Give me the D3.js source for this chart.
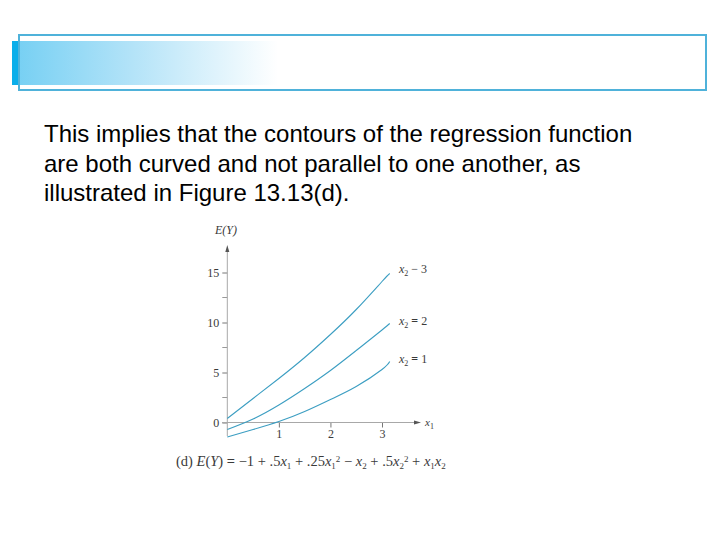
<!DOCTYPE html>
<html>
<head>
<meta charset="utf-8">
<script src="https://cdn.jsdelivr.net/npm/d3@7"></script>
<style>
  body { margin: 0; background: #fff; }
  svg { display: block; }
</style>
</head>
<body>
<div id="slide"></div>
<script>
'use strict';

// data
var x1Values = [0, 0.5, 1, 1.5, 2, 2.5, 3, 3.15];
var curveX2Eq3 = [0.4, 2.4, 4.4, 6.5, 8.8, 11.3, 14.1, 14.9];
var curveX2Eq2 = [-0.7, 0.35, 1.75, 3.4, 5.2, 7.2, 9.25, 9.9];
var curveX2Eq1 = [-1.45, -0.7, 0.1, 1.1, 2.3, 3.6, 5.3, 6.1];
var curveNames = ['x2 = 3', 'x2 = 2', 'x2 = 1'];
var curveSigns = ['\u2212', '=', '='];
var curveValues = [curveX2Eq3, curveX2Eq2, curveX2Eq1];
var yMajorTicks = [0, 5, 10, 15];
var yMinorTicks = [2.5, 7.5, 12.5];
var xTicks = [1, 2, 3];
var bodyLines = [
  'This implies that the contours of the regression function',
  'are both curved and not parallel to one another, as',
  'illustrated in Figure 13.13(d).'
];

var width = 720, height = 540;

var svg = d3.select('#slide')
            .append('svg')
            .attr('width', width)
            .attr('height', height);

var defs = svg.append('defs');

var grad = defs.append('linearGradient')
               .attr('id', 'headFade')
               .attr('x1', '0%').attr('x2', '100%')
               .attr('y1', '0%').attr('y2', '0%');
grad.append('stop').attr('offset', '0%').attr('stop-color', '#74cff3');
grad.append('stop').attr('offset', '45%').attr('stop-color', '#b3e3f8');
grad.append('stop').attr('offset', '100%').attr('stop-color', '#ffffff');

// header band
svg.append('rect')
   .attr('x', 12).attr('y', 41)
   .attr('width', 266).attr('height', 44)
   .attr('fill', 'url(#headFade)');

svg.append('rect')
   .attr('x', 12).attr('y', 41)
   .attr('width', 7).attr('height', 44)
   .attr('fill', '#0aaeea');

svg.append('rect')
   .attr('x', 19).attr('y', 35)
   .attr('width', 687).attr('height', 55)
   .attr('fill', 'none')
   .attr('stroke', '#4fb2da')
   .attr('stroke-width', 2);

// body text
svg.append('g')
   .selectAll('text')
   .data(bodyLines)
   .enter()
   .append('text')
   .attr('x', 44)
   .attr('y', function(d, i) { return 142 + i * 29.5; })
   .attr('font-family', 'Liberation Sans, Arial, sans-serif')
   .attr('font-size', 24)
   .attr('fill', '#000')
   .text(function(d) { return d; });

// chart
var xScale = d3.scaleLinear().domain([0, 3]).range([227.3, 382]);
var yScale = d3.scaleLinear().domain([0, 15]).range([422.5, 272.5]);

var serif = 'Liberation Serif, Times New Roman, serif';
var axisColor = '#a8a8a8';
var inkColor = '#3a3a3a';
var lineColor = '#3c9ec2';

var chart = svg.append('g');

// y axis
var yAxis = d3.axisLeft(yScale)
              .tickValues(yMajorTicks)
              .tickSize(5)
              .tickPadding(3)
              .tickFormat(d3.format('d'));

var yAxisG = chart.append('g')
                  .attr('transform', 'translate(' + xScale(0) + ',0)')
                  .call(yAxis);
yAxisG.select('.domain').remove();
yAxisG.selectAll('line').attr('stroke', '#777');
yAxisG.selectAll('text')
      .attr('font-family', serif)
      .attr('font-size', 12)
      .attr('fill', inkColor);

chart.append('g')
     .selectAll('line')
     .data(yMinorTicks)
     .enter()
     .append('line')
     .attr('x1', xScale(0) - 5).attr('x2', xScale(0))
     .attr('y1', function(d) { return yScale(d); })
     .attr('y2', function(d) { return yScale(d); })
     .attr('stroke', '#999');

chart.append('line')
     .attr('x1', xScale(0)).attr('x2', xScale(0))
     .attr('y1', 436).attr('y2', 250)
     .attr('stroke', axisColor)
     .attr('stroke-width', 1);

chart.append('path')
     .attr('d', d3.line()([[xScale(0) - 2, 252], [xScale(0), 245], [xScale(0) + 2, 252]]))
     .attr('fill', '#555');

chart.append('text')
     .attr('x', 215).attr('y', 234)
     .attr('font-family', serif)
     .attr('font-style', 'italic')
     .attr('font-size', 12)
     .attr('fill', inkColor)
     .text('E(Y)');

// x axis
var xAxis = d3.axisBottom(xScale)
              .tickValues(xTicks)
              .tickSize(5)
              .tickPadding(2)
              .tickFormat(d3.format('d'));

var xAxisG = chart.append('g')
                  .attr('transform', 'translate(0,' + yScale(0) + ')')
                  .call(xAxis);
xAxisG.select('.domain').remove();
xAxisG.selectAll('line').attr('stroke', '#777');
xAxisG.selectAll('text')
      .attr('font-family', serif)
      .attr('font-size', 12)
      .attr('fill', inkColor);

chart.append('line')
     .attr('x1', 222).attr('x2', 416)
     .attr('y1', yScale(0)).attr('y2', yScale(0))
     .attr('stroke', axisColor);

chart.append('path')
     .attr('d', d3.line()([[414, yScale(0) - 2], [421, yScale(0)], [414, yScale(0) + 2]]))
     .attr('fill', '#555');

var x1Label = chart.append('text')
                   .attr('x', 425).attr('y', yScale(0) + 3)
                   .attr('font-family', serif)
                   .attr('font-style', 'italic')
                   .attr('font-size', 11)
                   .attr('fill', inkColor)
                   .text('x');
x1Label.append('tspan')
       .attr('font-style', 'normal')
       .attr('font-size', 8)
       .attr('dy', 3)
       .text('1');

// curves
var line = d3.line()
             .x(function(d) { return xScale(d[0]); })
             .y(function(d) { return yScale(d[1]); })
             .curve(d3.curveNatural);

chart.append('g')
     .selectAll('path')
     .data(curveValues)
     .enter()
     .append('path')
     .attr('d', function(vals) {
       return line(vals.map(function(v, i) { return [x1Values[i], v]; }));
     })
     .attr('fill', 'none')
     .attr('stroke', lineColor)
     .attr('stroke-width', 1.1);

// curve labels
var labelY = [273, 325, 363];
curveNames.forEach(function(name, i) {
  var t = chart.append('text')
               .attr('x', 399).attr('y', labelY[i])
               .attr('font-family', serif)
               .attr('font-size', 12)
               .attr('fill', inkColor);
  t.append('tspan').attr('font-style', 'italic').text('x');
  t.append('tspan').attr('font-size', 8).attr('dy', 3).text('2');
  t.append('tspan').attr('dy', -3).attr('font-weight', curveSigns[i] === '=' ? 'bold' : 'normal')
   .text(' ' + curveSigns[i] + ' ');
  t.append('tspan').text(name.slice(-1));
});

// model caption
var cap = chart.append('text')
               .attr('x', 176).attr('y', 466)
               .attr('font-family', serif)
               .attr('font-size', 14.5)
               .attr('fill', inkColor);

function part(txt, opts) {
  var s = cap.append('tspan').text(txt);
  opts = opts || {};
  if (opts.italic) s.attr('font-style', 'italic');
  if (opts.bold) s.attr('font-weight', 'bold');
  if (opts.sub) s.attr('font-size', 9).attr('dy', 3);
  if (opts.sup) s.attr('font-size', 9).attr('dy', -7);
  if (opts.dy) s.attr('dy', opts.dy);
  return s;
}

part('(d) ');
part('E', { italic: true });
part('(');
part('Y', { italic: true });
part(') ');
part('= ', { bold: true });
part('\u22121 + .5');
part('x', { italic: true });
part('1', { sub: true });
part(' + .25', { dy: -3 });
part('x', { italic: true });
part('1', { sub: true });
part('2', { sup: true });
part(' \u2212 ', { dy: 4 });
part('x', { italic: true });
part('2', { sub: true });
part(' + .5', { dy: -3 });
part('x', { italic: true });
part('2', { sub: true });
part('2', { sup: true });
part(' + ', { dy: 4 });
part('x', { italic: true });
part('1', { sub: true });
part('x', { italic: true, dy: -3 });
part('2', { sub: true });
</script>
</body>
</html>
